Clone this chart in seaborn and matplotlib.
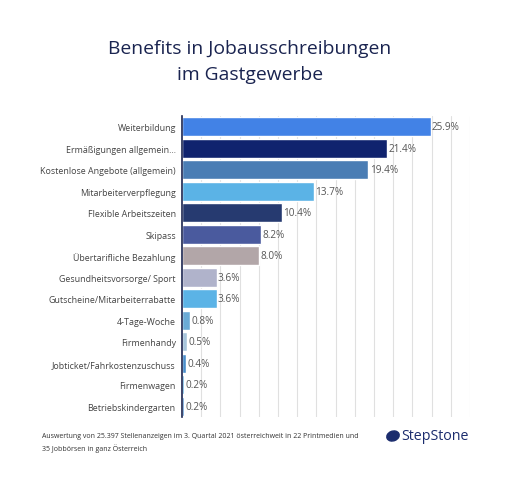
import matplotlib
matplotlib.use("Agg")
import matplotlib.pyplot as plt
import seaborn as sns
import pandas as pd
from matplotlib.patches import Ellipse

# data
benefits = ["Weiterbildung", "Ermäßigungen allgemein…", "Kostenlose Angebote (allgemein)",
            "Mitarbeiterverpflegung", "Flexible Arbeitszeiten", "Skipass",
            "Übertarifliche Bezahlung", "Gesundheitsvorsorge/ Sport",
            "Gutscheine/Mitarbeiterrabatte", "4-Tage-Woche", "Firmenhandy",
            "Jobticket/Fahrkostenzuschuss", "Firmenwagen", "Betriebskindergarten"]
shares = [25.9, 21.4, 19.4, 13.7, 10.4, 8.2, 8.0, 3.6, 3.6, 0.8, 0.5, 0.4, 0.2, 0.2]
bar_colors = ["#4282e6", "#10236e", "#4a7db4", "#5bb3e6", "#263a70", "#4a5a9e",
              "#b2a6a8", "#b0b3cb", "#5bb3e6", "#6aaad6", "#a7c5dc", "#4a8ecb",
              "#5aaee0", "#4a8dd0"]

df = pd.DataFrame({"benefit": benefits, "share": shares})

sns.set_style("white")
plt.rcParams["font.family"] = ["Open Sans", "DejaVu Sans"]

fig = plt.figure(figsize=(5.12, 4.81), dpi=100)
ax = fig.add_axes([182 / 512, 1 - 418 / 481, (470 - 182) / 512, (418 - 117) / 481])

sns.barplot(data=df, x="share", y="benefit", hue="benefit", palette=bar_colors,
            saturation=1, legend=False, width=0.88, ax=ax, zorder=2)

ax.set_xlim(0, 30)
ax.set_xticks(range(2, 31, 2))
ax.set_xticklabels([])
ax.tick_params(axis="x", length=5, color="#e0e0e0", width=0.8)
ax.tick_params(axis="y", length=0, labelsize=6.4, labelcolor="#444444", pad=4.5)
ax.xaxis.grid(True, color="#e0e0e0", linewidth=0.8, zorder=0)
ax.set_xlabel("")
ax.set_ylabel("")
for side in ["top", "right", "bottom"]:
    ax.spines[side].set_visible(False)
ax.spines["left"].set_color("#1b2550")
ax.spines["left"].set_linewidth(1.2)
ax.spines["left"].set_zorder(5)

for cont in ax.containers:
    ax.bar_label(cont, labels=[f"{v:.1f}%" for v in cont.datavalues],
                 padding=1, fontsize=7.2, color="#555555")

fig.text(0.488, 1 - 62 / 481, "Benefits in Jobausschreibungen\nim Gastgewerbe",
         ha="center", va="center", fontsize=13.9, color="#1a2450",
         linespacing=1.55)

fig.text(42 / 512, 1 - 443 / 481,
         "Auswertung von 25.397 Stellenanzeigen im 3. Quartal 2021 österreichweit in 22 Printmedien und\n"
         "35 Jobbörsen in ganz Österreich",
         ha="left", va="center", fontsize=5.0, color="#333333", linespacing=1.6)

fig.text(401 / 512, 1 - 437 / 481, "StepStone", ha="left", va="center",
         fontsize=10.3, color="#1c2d6e")
fig.patches.append(Ellipse((393 / 512, 1 - 437 / 481), 0.025, 0.02, angle=25,
                           transform=fig.transFigure, color="#1c2d6e"))

fig.savefig("out.png", dpi=100)
